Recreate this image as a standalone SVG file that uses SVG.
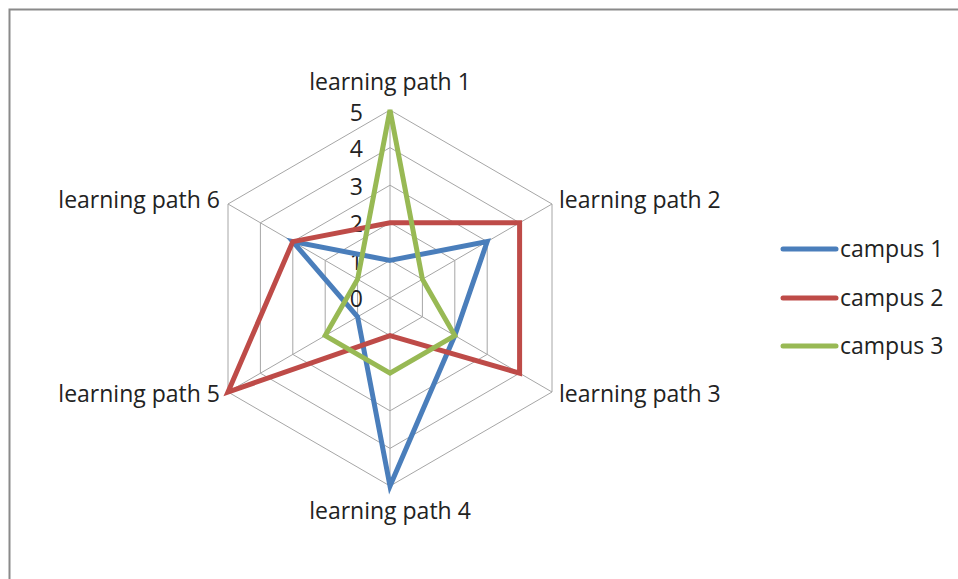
<svg xmlns="http://www.w3.org/2000/svg" width="958" height="579" viewBox="0 0 958 579">
<style>
text{font-family:"Open Sans","Liberation Sans",sans-serif;font-size:23px;fill:#222}
.grid{fill:none;stroke:#a6a6a6;stroke-width:1}
.s{fill:none;stroke-width:5;stroke-linejoin:miter}
.lg{stroke-width:5;stroke-linecap:round}
</style>
<rect width="958" height="579" fill="#fff"/>
<path d="M9.5,580 V9.5 H960" fill="none" stroke="#8a8a8a" stroke-width="2"/>
<g id="grid">
<polygon class="grid" points="390,260.4 422.4,279.2 422.4,316.8 390,335.6 357.6,316.8 357.6,279.2"/>
<polygon class="grid" points="390,222.8 454.8,260.4 454.8,335.6 390,373.2 325.2,335.6 325.2,260.4"/>
<polygon class="grid" points="390,185.2 487.2,241.6 487.2,354.4 390,410.8 292.8,354.4 292.8,241.6"/>
<polygon class="grid" points="390,147.6 519.6,222.8 519.6,373.2 390,448.4 260.4,373.2 260.4,222.8"/>
<polygon class="grid" points="390,110 552,204 552,392 390,486 228,392 228,204"/>
<path class="grid" d="M390,298 L390,110 M390,298 L552,204 M390,298 L552,392 M390,298 L390,486 M390,298 L228,392 M390,298 L228,204"/>
</g>
<g id="axis-labels" text-anchor="end">
<text x="363" y="121">5</text>
<text x="363" y="157">4</text>
<text x="363" y="195">3</text>
<text x="363" y="232">2</text>
<text x="363" y="270">1</text>
<text x="363" y="307">0</text>
</g>
<g id="category-labels">
<text x="390" y="90" text-anchor="middle">learning path 1</text>
<text x="559" y="208">learning path 2</text>
<text x="559" y="402">learning path 3</text>
<text x="390" y="519" text-anchor="middle">learning path 4</text>
<text x="220" y="402" text-anchor="end">learning path 5</text>
<text x="220" y="208" text-anchor="end">learning path 6</text>
</g>
<g id="series">
<polygon id="campus1" class="s" stroke="#4a7ebb" points="390,260.4 487.2,241.6 454.8,335.6 390,486 357.6,316.8 292.8,241.6"/>
<polygon id="campus2" class="s" stroke="#be4b48" points="390,222.8 519.6,222.8 519.6,373.2 390,335.6 228,392 292.8,241.6"/>
<polygon id="campus3" class="s" stroke="#98b954" points="390,110 422.4,279.2 454.8,335.6 390,373.2 325.2,335.6 357.6,279.2"/>
</g>
<g id="legend">
<line class="lg" x1="783" y1="249" x2="836" y2="249" stroke="#4a7ebb"/>
<text x="840" y="257">campus 1</text>
<line class="lg" x1="783" y1="298" x2="836" y2="298" stroke="#be4b48"/>
<text x="840" y="306">campus 2</text>
<line class="lg" x1="783" y1="346" x2="836" y2="346" stroke="#98b954"/>
<text x="840" y="354">campus 3</text>
</g>
</svg>
